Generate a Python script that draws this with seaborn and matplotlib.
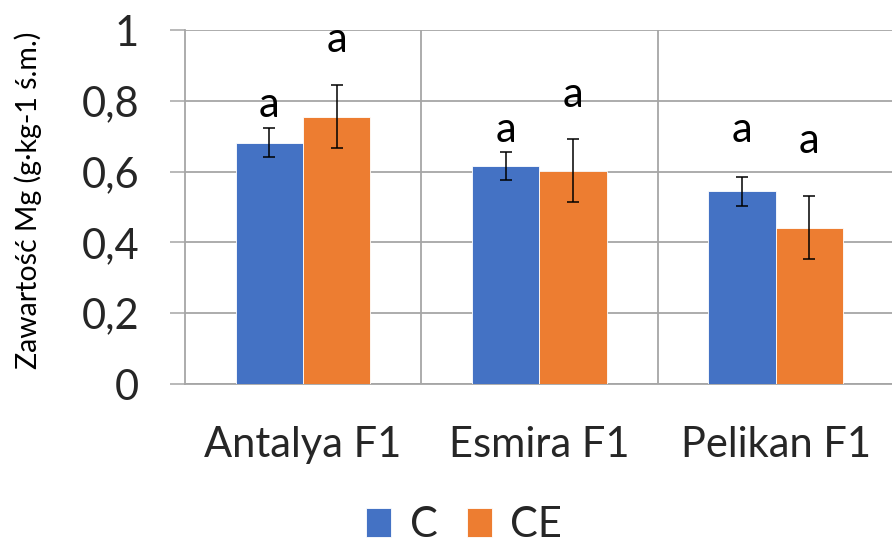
import numpy as np
import pandas as pd
import matplotlib
matplotlib.use("Agg")
import matplotlib.pyplot as plt
import seaborn as sns

# ---- data ----
cultivars = ["Antalya F1", "Esmira F1", "Pelikan F1"]
treatments = ["C", "CE"]
mg_C = [0.682, 0.615, 0.544]
mg_CE = [0.755, 0.603, 0.442]
err_C = [0.040, 0.040, 0.040]
err_CE = [0.089, 0.090, 0.090]
letters_C = ["a", "a", "a"]
letters_CE = ["a", "a", "a"]
letter_y_C = [0.754, 0.683, 0.683]
letter_y_CE = [0.938, 0.782, 0.652]
yticks = [0, 0.2, 0.4, 0.6, 0.8, 1.0]
ytick_labels = ["0", "0,2", "0,4", "0,6", "0,8", "1"]
ylabel = "Zawartość Mg (g·kg-1 ś.m.)"

colors = ["#4472C4", "#ED7D31"]
grid_color = "#A6A6A6"

df = pd.DataFrame({
    "cultivar": cultivars * 2,
    "treatment": ["C"] * 3 + ["CE"] * 3,
    "mg": mg_C + mg_CE,
})

sns.set_theme(style="white")
plt.rcParams["font.family"] = ["Lato", "DejaVu Sans"]

fig = plt.figure(figsize=(8.92, 5.43), dpi=100)
ax = fig.add_axes([185 / 892, 1 - 384 / 543, 1 - 185 / 892 + 0.002, (384 - 30) / 543])

sns.barplot(data=df, x="cultivar", y="mg", hue="treatment", order=cultivars,
            hue_order=treatments, palette=colors, saturation=1, width=0.57, errorbar=None,
            edgecolor="white", linewidth=0.6, ax=ax, zorder=3, legend=True)

errs = [err_C, err_CE]
letters = [letters_C, letters_CE]
letter_ys = [letter_y_C, letter_y_CE]
vals = [mg_C, mg_CE]
bar_containers = list(ax.containers)
for j, cont in enumerate(bar_containers):
    xs = [b.get_x() + b.get_width() / 2 for b in cont]
    ax.errorbar(xs, vals[j], yerr=errs[j], fmt="none", ecolor="black",
                elinewidth=1.1, capsize=4.5, capthick=1.1, zorder=4)
    for x, lab, ly in zip(xs, letters[j], letter_ys[j]):
        ax.text(x, ly, lab, ha="center", va="baseline", fontsize=30, color="black")

ax.set_ylim(0, 1)
ax.set_xlim(-0.5, 2.5)
ax.set_yticks(yticks)
ax.set_yticklabels(ytick_labels, fontsize=30)
ax.tick_params(axis="y", length=11, width=1.1, color=grid_color, pad=22, left=True)
ax.tick_params(axis="x", length=0, pad=30, labelsize=30)
for lbl in ax.get_xticklabels():
    lbl.set_fontsize(30)
ax.set_xlabel("")
ax.set_ylabel("")

ax.yaxis.grid(True, color=grid_color, linewidth=1.3, zorder=0)
ax.set_axisbelow(True)
for xb in [0.5, 1.5, 2.5]:
    ax.axvline(xb, color=grid_color, linewidth=1.3, zorder=0)
for side in ["top", "right"]:
    ax.spines[side].set_visible(False)
for side in ["left", "bottom"]:
    ax.spines[side].set_color(grid_color)
    ax.spines[side].set_linewidth(1.3)

fig.text(28 / 892, 1 - 200 / 543, ylabel, rotation=90, ha="center", va="center",
         fontsize=20.5, color="black")

handles, labels_ = ax.get_legend_handles_labels()
ax.get_legend().remove()
fig.legend(handles, labels_, loc="center", bbox_to_anchor=(464 / 892, 1 - 525 / 543),
           ncol=2, frameon=False, fontsize=30, handlelength=0.6, handleheight=0.7,
           handletextpad=0.45, columnspacing=0.7, borderpad=0, borderaxespad=0)

fig.savefig("out.png", dpi=100)
